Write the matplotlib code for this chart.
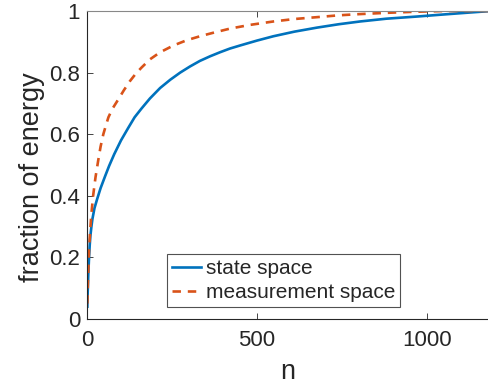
import matplotlib
matplotlib.use("Agg")
import matplotlib.pyplot as plt

plt.rcParams['font.family'] = ['Liberation Sans', 'DejaVu Sans']

# state space (blue solid)
state_n = [1, 2, 3, 4, 6, 8, 10, 13, 16, 22, 30, 40, 53, 65, 80, 100, 121, 140,
           160, 185, 215, 245, 274, 303, 332, 362, 391, 420, 450, 500, 548, 610,
           676, 740, 803, 880, 970, 1040, 1100, 1150, 1190]
state_y = [0.04, 0.085, 0.12, 0.15, 0.20, 0.24, 0.27, 0.30, 0.325, 0.36, 0.39,
           0.425, 0.463, 0.497, 0.535, 0.58, 0.62, 0.655, 0.683, 0.716, 0.75,
           0.777, 0.80, 0.82, 0.838, 0.853, 0.866, 0.878, 0.888, 0.904, 0.918,
           0.933, 0.946, 0.957, 0.966, 0.975, 0.982, 0.988, 0.993, 0.997, 1.0]

# measurement space (orange dashed)
meas_n = [1, 2, 3, 4, 6, 9, 12, 18, 25, 33, 40, 48, 56, 63, 75, 92, 108, 126,
          143, 160, 185, 215, 254, 293, 332, 370, 421, 480, 548, 610, 676, 740,
          803, 880, 950, 1050, 1190]
meas_y = [0.05, 0.09, 0.13, 0.16, 0.224, 0.28, 0.33, 0.40, 0.46, 0.515, 0.56,
          0.60, 0.63, 0.655, 0.683, 0.713, 0.742, 0.772, 0.796, 0.816, 0.843,
          0.866, 0.888, 0.905, 0.918, 0.929, 0.943, 0.955, 0.966, 0.974, 0.98,
          0.986, 0.99, 0.994, 0.997, 1.0, 1.0]

xticks = [0, 500, 1000]
yticks = [0, 0.2, 0.4, 0.6, 0.8, 1]
ytick_labels = ['0', '0.2', '0.4', '0.6', '0.8', '1']

W, H = 489, 387
fig = plt.figure(figsize=(W / 100, H / 100), dpi=100)
ax = fig.add_axes([87 / W, 1 - 319 / H, (489 - 87) / W, (319 - 11) / H])

blue = '#0072BD'
orange = '#D95319'
ax.plot(state_n, state_y, color=blue, lw=1.9, label='state space')
ax.plot(meas_n, meas_y, color=orange, lw=1.9, dashes=(3.2, 2.6), label='measurement space')

ax.set_xlim(0, 1182)
ax.set_ylim(0, 1)
ax.set_xticks(xticks)
ax.set_yticks(yticks)
ax.set_yticklabels(ytick_labels)

axc = '#262626'
for s in ['left', 'bottom', 'top']:
    ax.spines[s].set_color(axc)
    ax.spines[s].set_linewidth(0.8)
ax.spines['top'].set_color('#888888')
ax.spines['right'].set_visible(False)
ax.tick_params(direction='in', length=4, width=0.6, colors=axc, labelsize=16,
               top=True, right=False)
ax.tick_params(axis='x', pad=8)
ax.tick_params(axis='y', pad=5)

ax.set_xlabel('n', fontsize=19.5, color=axc)
ax.set_ylabel('fraction of energy', fontsize=19.5, color=axc)
ax.xaxis.set_label_coords(0.5, -0.13)
ax.yaxis.set_label_coords(-0.104, 0.46)

leg = ax.legend(loc='upper left', bbox_to_anchor=(0.199, 0.211), fontsize=15,
                frameon=True, fancybox=False, borderaxespad=0, handlelength=1.4,
                handletextpad=0.2, borderpad=0.25, labelspacing=0.22)
leg.get_frame().set_edgecolor(axc)
leg.get_frame().set_linewidth(0.8)
for t in leg.get_texts():
    t.set_color(axc)

fig.savefig('out.png', dpi=100)
